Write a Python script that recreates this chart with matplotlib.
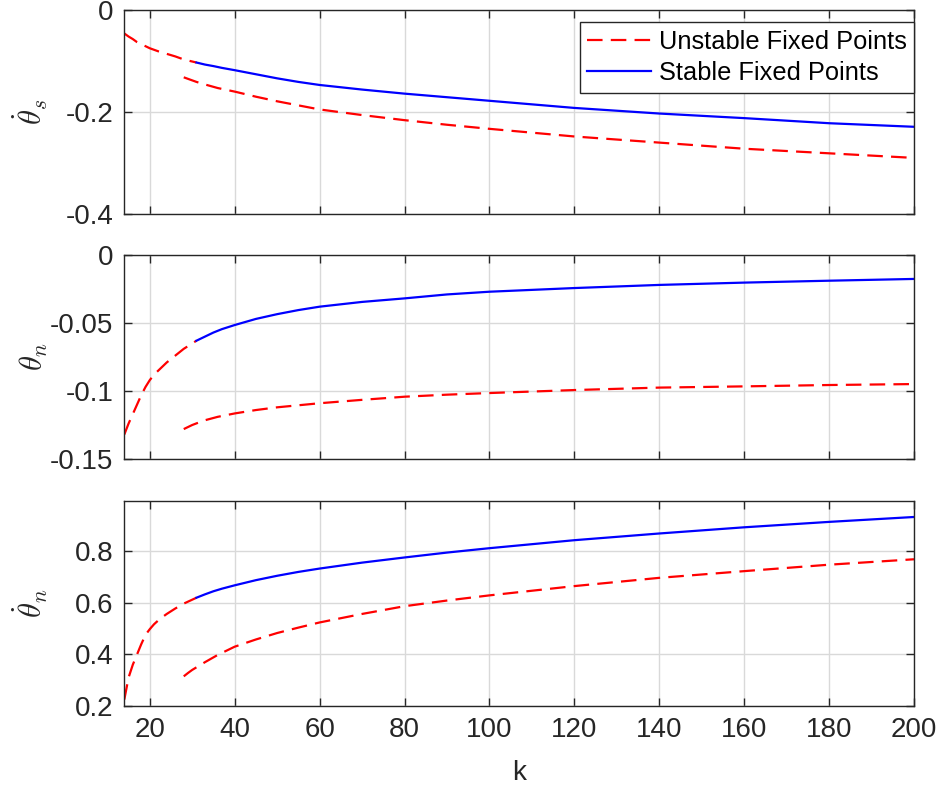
import matplotlib
matplotlib.use('Agg')
import matplotlib.pyplot as plt

# upper branch, unstable part (k = 14 .. 31)
k_unst_up = [14, 15, 16, 17, 18, 19, 20, 21, 22, 23, 24, 26, 28, 31]
ths_unst_up = [-0.046, -0.052, -0.057, -0.063, -0.067, -0.071, -0.075, -0.078, -0.081, -0.0835,
               -0.086, -0.091, -0.097, -0.103]
thn_unst_up = [-0.132, -0.124, -0.117, -0.110, -0.103, -0.097, -0.092, -0.088, -0.085, -0.082,
               -0.079, -0.074, -0.069, -0.063]
dthn_unst_up = [0.225, 0.31, 0.36, 0.40, 0.44, 0.476, 0.498, 0.517, 0.532, 0.545,
                0.557, 0.578, 0.597, 0.62]

# upper branch, stable part
k_stab = [31, 33, 35, 37, 40, 45, 50, 55, 60, 70, 80, 90, 100, 120, 140, 160, 180, 200]
ths_stab = [-0.103, -0.107, -0.110, -0.1135, -0.118, -0.126, -0.134, -0.141, -0.147, -0.156,
            -0.164, -0.171, -0.178, -0.192, -0.203, -0.212, -0.222, -0.229]
thn_stab = [-0.063, -0.060, -0.057, -0.0545, -0.0515, -0.047, -0.0435, -0.0405, -0.038, -0.0345,
            -0.0319, -0.029, -0.027, -0.0243, -0.022, -0.0203, -0.0189, -0.0176]
dthn_stab = [0.62, 0.633, 0.645, 0.655, 0.668, 0.688, 0.705, 0.720, 0.733, 0.756,
             0.776, 0.795, 0.812, 0.843, 0.869, 0.893, 0.914, 0.933]

# lower branch, unstable
k_unst_lo = [28, 29, 30, 31, 33, 36, 40, 45, 50, 55, 60, 70, 80, 90, 100, 120, 140, 160, 180, 200]
ths_unst_lo = [-0.132, -0.135, -0.138, -0.141, -0.146, -0.153, -0.160, -0.170, -0.179, -0.187,
               -0.195, -0.206, -0.216, -0.225, -0.233, -0.248, -0.260, -0.272, -0.281, -0.290]
thn_unst_lo = [-0.128, -0.1265, -0.125, -0.1238, -0.1215, -0.119, -0.1165, -0.114, -0.112, -0.1105,
               -0.109, -0.1065, -0.1042, -0.1027, -0.1015, -0.0993, -0.0975, -0.0966, -0.0956, -0.0949]
dthn_unst_lo = [0.315, 0.328, 0.340, 0.350, 0.370, 0.398, 0.430, 0.458, 0.483, 0.504,
                0.524, 0.557, 0.587, 0.609, 0.629, 0.665, 0.697, 0.723, 0.748, 0.769]

xticks = [20, 40, 60, 80, 100, 120, 140, 160, 180, 200]
yticks_top = [0, -0.2, -0.4]
ylabels_top = ['0', '-0.2', '-0.4']
yticks_mid = [0, -0.05, -0.1, -0.15]
ylabels_mid = ['0', '-0.05', '-0.1', '-0.15']
yticks_bot = [0.2, 0.4, 0.6, 0.8]
ylabels_bot = ['0.2', '0.4', '0.6', '0.8']

plt.rcParams['font.family'] = ['Liberation Sans', 'DejaVu Sans']
plt.rcParams['mathtext.fontset'] = 'cm'

DARK = (0.15, 0.15, 0.15)
W, H = 943., 792.

fig = plt.figure(figsize=(9.43, 7.92), dpi=100)

# axes boxes in pixels: (left, top, right, bottom)
boxes = [(124.3, 10, 914, 214), (124.3, 255, 914, 459), (124.3, 501, 914, 706)]
axs = []
for l, t, r, b in boxes:
    axs.append(fig.add_axes([l / W, 1 - b / H, (r - l) / W, (b - t) / H]))

panels = [
    (ths_unst_up, ths_stab, ths_unst_lo, (-0.4, 0), yticks_top, ylabels_top, r'$\dot{\theta}_s$'),
    (thn_unst_up, thn_stab, thn_unst_lo, (-0.15, 0), yticks_mid, ylabels_mid, r'$\theta_n$'),
    (dthn_unst_up, dthn_stab, dthn_unst_lo, (0.2, 0.995), yticks_bot, ylabels_bot, r'$\dot{\theta}_n$'),
]

dash = (0, (7, 3.7))
for i, (ax, p) in enumerate(zip(axs, panels)):
    up, st, lo, ylim, yt, yl, lab = p
    h1, = ax.plot(k_unst_up, up, color='red', lw=1.6, ls=dash)
    ax.plot(k_unst_lo, lo, color='red', lw=1.6, ls=dash)
    h2, = ax.plot(k_stab, st, color='blue', lw=1.6)
    ax.set_xlim(14, 200)
    ax.set_ylim(*ylim)
    ax.set_xticks(xticks)
    ax.set_yticks(yt)
    ax.set_yticklabels(yl)
    if i < 2:
        ax.set_xticklabels([])
    ax.grid(True, color=(0.85, 0.85, 0.85), lw=1)
    ax.set_axisbelow(True)
    ax.tick_params(direction='in', top=True, right=True, labelsize=20,
                   colors=DARK, length=6, width=1, pad=8)
    for s in ax.spines.values():
        s.set_color(DARK)
        s.set_linewidth(1)
    ax.set_ylabel(lab, fontsize=22, color=DARK)
    ax.yaxis.set_label_coords(-0.094, 0.5)
    if i == 0:
        leg = ax.legend([h1, h2], ['Unstable Fixed Points', 'Stable Fixed Points'],
                        loc='upper right', bbox_to_anchor=(1, 1 - 12 / 204.),
                        borderaxespad=0, fontsize=18.3, fancybox=False,
                        handlelength=2.5, handletextpad=0.3, borderpad=0.3,
                        labelspacing=0.3, framealpha=1)
        leg.get_frame().set_edgecolor(DARK)
        leg.get_frame().set_linewidth(1)

axs[2].set_xlabel('k', fontsize=20, color=DARK, labelpad=12)

plt.savefig('out.png', dpi=100)
